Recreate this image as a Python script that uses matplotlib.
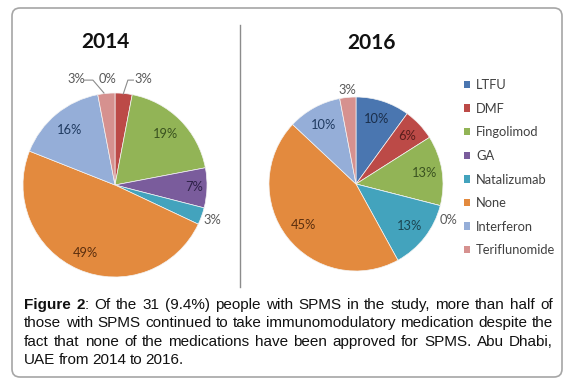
import matplotlib
matplotlib.use("Agg")
import matplotlib.pyplot as plt
import numpy as np
from matplotlib.patches import FancyBboxPatch, Patch

# Data
categories = ["LTFU", "DMF", "Fingolimod", "GA", "Natalizumab", "None", "Interferon", "Teriflunomide"]
share_2014 = [0, 3, 19, 7, 3, 49, 16, 3]
share_2016 = [10, 6, 13, 0, 13, 45, 10, 3]
years = ["2014", "2016"]

colors = ["#4A76B0", "#BC4A47", "#92B456", "#7A5C9C", "#43A3BD", "#E38A3E", "#95AED8", "#D6918F"]
text_dark = ["#1A2E4A", "#5A1E1C", "#3A5220", "#2E2248", "#1C4652", "#5A2E0E", "#1F3A60", "#5A2E2E"]
grey = "#595959"

caption_lines = [
    [("Figure", "bold"), ("2", "bold", ":"), ("Of", None), ("the", None), ("31", None), ("(9.4%)", None),
     ("people", None), ("with", None), ("SPMS", None), ("in", None), ("the", None), ("study,", None),
     ("more", None), ("than", None), ("half", None), ("of", None)],
    "those with SPMS continued to take immunomodulatory medication despite the",
    "fact that none of the medications have been approved for SPMS. Abu Dhabi,",
    "UAE from 2014 to 2016.",
]

W, H = 567, 383
fig = plt.figure(figsize=(W / 100, H / 100), dpi=100)
fig.patch.set_facecolor("white")

# background axes in pixel coordinates
bg = fig.add_axes([0, 0, 1, 1])
bg.set_xlim(0, W)
bg.set_ylim(H, 0)
bg.axis("off")
bg.add_patch(FancyBboxPatch((12, 8), 550, 369, boxstyle="round,pad=0,rounding_size=8",
                            facecolor="none", edgecolor="#A6A6A6", lw=1.2))
bg.plot([240, 240], [25, 287], color="#8C8C8C", lw=1.0)


def pie_axes(cx, cy, r):
    ax = fig.add_axes([(cx - r) / W, 1 - (cy + r) / H, 2 * r / W, 2 * r / H])
    ax.set_xlim(-1, 1)
    ax.set_ylim(-1, 1)
    ax.axis("off")
    return ax


def draw_pie(ax, values, dist, overrides):
    ax.pie(values, colors=colors, startangle=90, counterclock=False, radius=1,
           wedgeprops=dict(linewidth=0.5, edgecolor="#F4F4F4"))
    ax.set_xlim(-1, 1)
    ax.set_ylim(-1, 1)
    total = float(sum(values))
    cum = 0.0
    for i, v in enumerate(values):
        mid = 90 - (cum + v / 2) / total * 360
        cum += v
        d = dist[i]
        if i in overrides:
            x, y = overrides[i]
        else:
            x, y = d * np.cos(np.radians(mid)), d * np.sin(np.radians(mid))
        col = text_dark[i] if d < 1 else grey
        ax.text(x, y, f"{v}%", ha="center", va="center", fontsize=9.3, color=col,
                family="Lato")


# 2014
ax1 = pie_axes(115, 185, 92)
draw_pie(ax1, share_2014, [1.15, 1.15, 0.78, 0.86, 1.13, 0.80, 0.77, 1.15],
         {0: (-0.08, 1.15), 1: (0.31, 1.15), 7: (-0.42, 1.15)})
ax1.plot([-0.33, -0.24, -0.12], [1.14, 1.14, 1.0], color="#8C8C8C", lw=0.8, clip_on=False)
ax1.plot([0.20, 0.14, 0.09], [1.14, 1.14, 0.99], color="#8C8C8C", lw=0.8, clip_on=False)
fig.text(105 / W, 1 - 42 / H, years[0], ha="center", va="center", fontsize=15,
         fontweight="bold", family="Lato", color="#111111")

# 2016
ax2 = pie_axes(356, 184, 87)
draw_pie(ax2, share_2016, [0.78, 0.80, 0.80, 1.15, 0.78, 0.77, 0.77, 1.09],
         {3: (1.06, -0.41)})
fig.text(372 / W, 1 - 43 / H, years[1], ha="center", va="center", fontsize=15,
         fontweight="bold", family="Lato", color="#111111")

# legend
handles = [Patch(facecolor=c, edgecolor="none") for c in colors]
fig.legend(handles, categories, loc="upper left", bbox_to_anchor=(464 / W, 1 - 79 / H),
           frameon=False, labelcolor="#404040", handlelength=0.5,
           handleheight=0.5, handletextpad=0.42, labelspacing=0.9, borderpad=0,
           borderaxespad=0, prop={"family": "Lato", "size": 9.3})

# caption, justified between left and right margins
left, right = 24, 553
ys = [305, 323, 342, 360]
fs = 11.0
renderer = fig.canvas.get_renderer()
for li, line in enumerate(caption_lines):
    if isinstance(line, str):
        words = [(w, None) for w in line.split()]
    else:
        words = line
    pieces = []
    for w in words:
        txts = [bg.text(0, ys[li], w[0], fontsize=fs, family="Liberation Sans",
                        fontweight=w[1] or "normal", va="center", ha="left", color="#111111")]
        if len(w) > 2:
            txts.append(bg.text(0, ys[li], w[2], fontsize=fs, family="Liberation Sans",
                                va="center", ha="left", color="#111111"))
        pieces.append(txts)
    widths = []
    for txts in pieces:
        widths.append([t.get_window_extent(renderer).width for t in txts])
    total_w = sum(sum(w) for w in widths)
    n_gaps = len(pieces) - 1
    if li < len(caption_lines) - 1:
        gap = (right - left - total_w) / n_gaps
    else:
        gap = 3.2
    x = left
    for txts, ws in zip(pieces, widths):
        for t, w in zip(txts, ws):
            t.set_x(x)
            x += w
        x += gap

fig.savefig("out.png", dpi=100)
